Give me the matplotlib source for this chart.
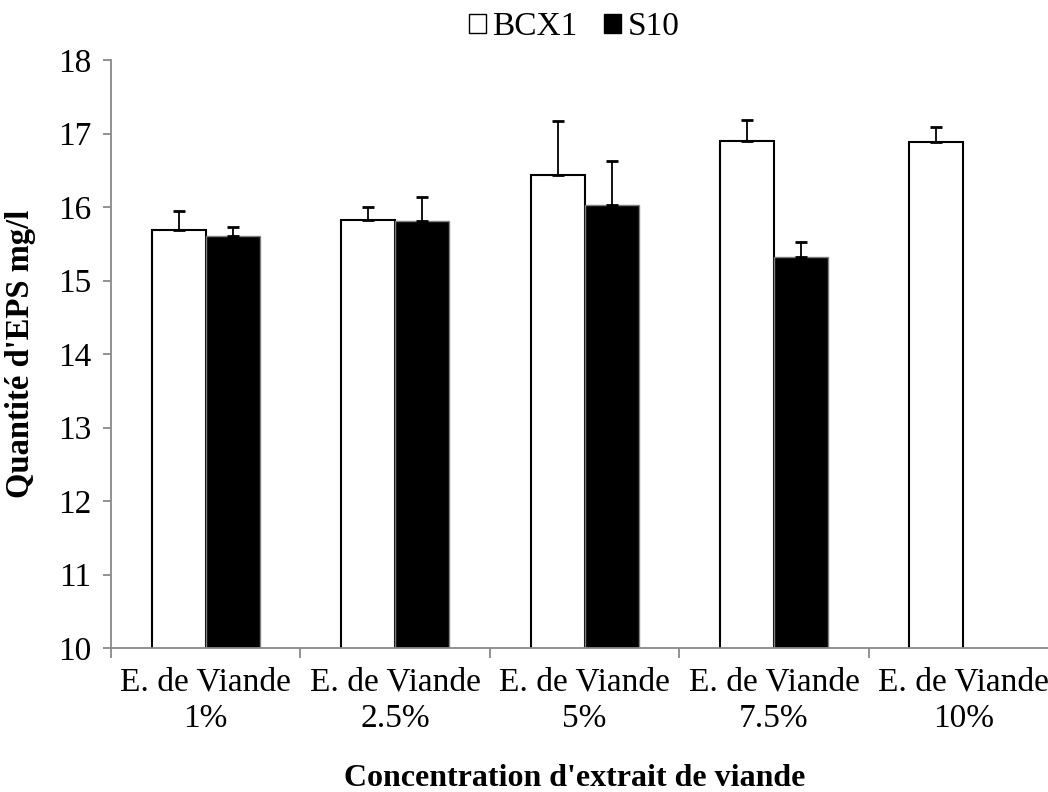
import numpy as np
import matplotlib.pyplot as plt

categories = ["E. de Viande\n1%", "E. de Viande\n2.5%", "E. de Viande\n5%",
              "E. de Viande\n7.5%", "E. de Viande\n10%"]
bcx1 = [15.69, 15.82, 16.44, 16.90, 16.89]
bcx1_err = [0.25, 0.18, 0.73, 0.28, 0.20]
s10 = [15.60, 15.81, 16.03, 15.32, np.nan]
s10_err = [0.13, 0.33, 0.59, 0.20, np.nan]

plt.rcParams['font.family'] = ['Liberation Serif', 'DejaVu Serif']
fs = 24

fig = plt.figure(figsize=(10.48, 7.92), dpi=100)
ax = fig.add_axes([0.1059, 0.1818, 0.9037, 0.7424])

x = np.arange(len(categories))
w = 0.285
ax.bar(x - w/2, bcx1, w, color="white", edgecolor="black", linewidth=1.5,
       label="BCX1", zorder=2)
ax.bar(x + w/2, s10, w, color="black", edgecolor="#808080", linewidth=1,
       label="S10", zorder=2)
ax.errorbar(x - w/2, bcx1, yerr=[np.zeros(5), bcx1_err], fmt="none", ecolor="black",
            elinewidth=1.3, capsize=4.5, capthick=2, zorder=3)
ax.errorbar(x + w/2, s10, yerr=[np.zeros(5), s10_err], fmt="none", ecolor="black",
            elinewidth=1.3, capsize=4.5, capthick=2, zorder=3)

ax.set_ylim(10, 18)
ax.set_xlim(-0.5, len(categories) - 0.5)
ax.set_yticks(range(10, 19))
ax.set_xticks(x)
ax.set_xticklabels(categories, linespacing=1.25)
ax.set_xticks(np.arange(-0.5, len(categories)), minor=True)
ax.tick_params(axis="x", which="major", length=0, labelsize=fs, pad=14)
ax.tick_params(axis="x", which="minor", length=7, color="#898989", width=1.3)
ax.tick_params(axis="y", length=6, color="#898989", width=1.3, labelsize=fs, pad=8)

for s in ["top", "right"]:
    ax.spines[s].set_visible(False)
for s in ["left", "bottom"]:
    ax.spines[s].set_color("#898989")
    ax.spines[s].set_linewidth(1.3)

ax.set_ylabel("Quantité d'EPS mg/l", fontsize=23.5, fontweight="bold", labelpad=16)
fig.text(0.548, 1 - 786/792, "Concentration d'extrait de viande", fontsize=23,
         fontweight="bold", ha="center", va="baseline")

leg = fig.legend(loc="center", bbox_to_anchor=(0.548, 1 - 27/792), ncol=2,
                 frameon=False, fontsize=fs, handlelength=0.5, handleheight=0.5,
                 handletextpad=0.2, columnspacing=0.8, borderpad=0)
for h in leg.legend_handles:
    h.set_linewidth(1)
    h.set_edgecolor("black")

fig.savefig("out.png", dpi=100)
